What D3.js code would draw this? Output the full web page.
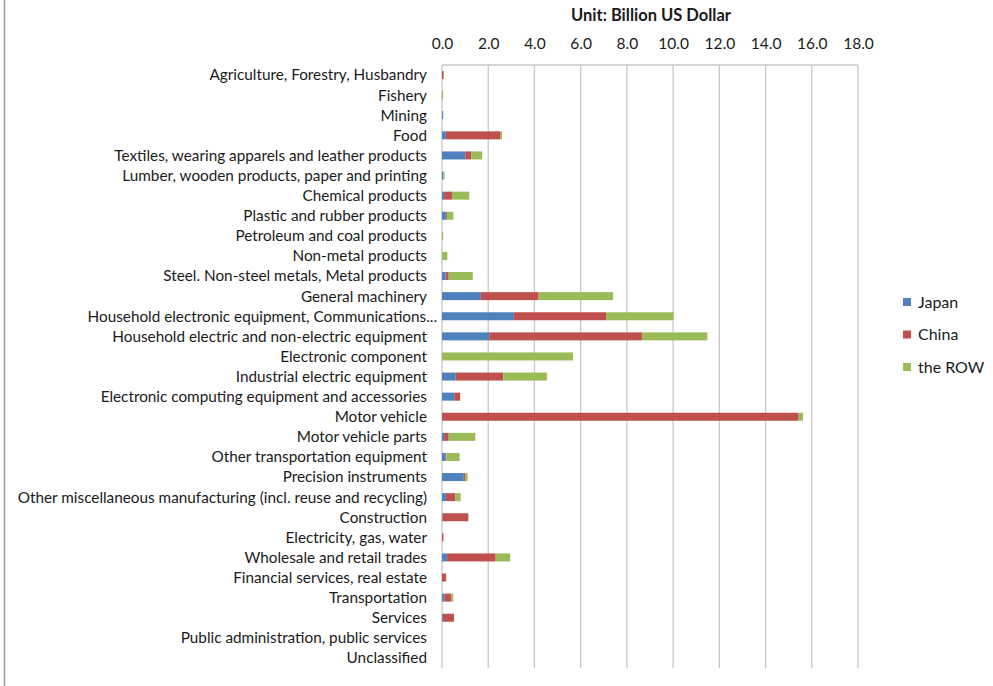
<!DOCTYPE html>
<html>
<head>
<meta charset="utf-8">
<script src="https://cdn.jsdelivr.net/npm/d3@7"></script>
<style>
  html, body { margin: 0; padding: 0; background: #fff; }
  svg { display: block; }
  text { font-family: Lato, "Open Sans", sans-serif; fill: #1a1a1a; }
</style>
</head>
<body>
<svg id="chart" width="993" height="686"></svg>
<script>
const categories = [
  "Agriculture, Forestry, Husbandry",
  "Fishery",
  "Mining",
  "Food",
  "Textiles, wearing apparels and leather products",
  "Lumber, wooden products, paper and printing",
  "Chemical products",
  "Plastic and rubber products",
  "Petroleum and coal products",
  "Non-metal products",
  "Steel. Non-steel metals, Metal products",
  "General machinery",
  "Household electronic equipment, Communications...",
  "Household electric and non-electric equipment",
  "Electronic component",
  "Industrial electric equipment",
  "Electronic computing equipment and accessories",
  "Motor vehicle",
  "Motor vehicle parts",
  "Other transportation equipment",
  "Precision instruments",
  "Other miscellaneous manufacturing (incl. reuse and recycling)",
  "Construction",
  "Electricity, gas, water",
  "Wholesale and retail trades",
  "Financial services, real estate",
  "Transportation",
  "Services",
  "Public administration, public services",
  "Unclassified"
];
const seriesNames = ["Japan", "China", "the ROW"];
const japan = [0.00, 0.00, 0.05, 0.17, 1.01, 0.06, 0.09, 0.17, 0.00, 0.00, 0.16, 1.68, 3.11, 2.04, 0.00, 0.59, 0.53, 0.00, 0.09, 0.16, 0.94, 0.17, 0.02, 0.00, 0.22, 0.00, 0.10, 0.04, 0.00, 0.00];
const china = [0.07, 0.00, 0.00, 2.36, 0.26, 0.00, 0.34, 0.04, 0.00, 0.00, 0.13, 2.50, 3.99, 6.61, 0.00, 2.06, 0.26, 15.43, 0.20, 0.03, 0.07, 0.41, 1.12, 0.06, 2.10, 0.17, 0.30, 0.48, 0.00, 0.00];
const row   = [0.00, 0.05, 0.00, 0.07, 0.47, 0.05, 0.75, 0.28, 0.05, 0.23, 1.04, 3.22, 2.92, 2.83, 5.67, 1.89, 0.00, 0.19, 1.15, 0.57, 0.10, 0.23, 0.00, 0.00, 0.63, 0.02, 0.09, 0.00, 0.00, 0.00];
const xTicks = [0, 2, 4, 6, 8, 10, 12, 14, 16, 18];
const axisTitle = "Unit: Billion US Dollar";
const colors = ["#4F81BD", "#C0504D", "#9BBB59"];

const svg = d3.select("#chart");

// outer frame left edge
svg.append("line").attr("x1", 4.5).attr("x2", 4.5).attr("y1", 0).attr("y2", 686)
  .attr("stroke", "#9a9a9a").attr("stroke-width", 1.5);

const pLeft = 442, pRight = 858, pTop = 65, pBottom = 668;
const x = d3.scaleLinear().domain([0, 18]).range([pLeft, pRight]);
const y = d3.scaleBand().domain(categories).range([pTop, pBottom]).paddingInner(0.6).paddingOuter(0.3);

// gridlines
svg.append("g").selectAll("line").data(xTicks).join("line")
  .attr("x1", d => x(d)).attr("x2", d => x(d))
  .attr("y1", pTop).attr("y2", pBottom)
  .attr("stroke", "#c8c8c8").attr("stroke-width", 1.3);
svg.append("line").attr("x1", pLeft).attr("x2", pRight).attr("y1", pTop).attr("y2", pTop)
  .attr("stroke", "#c8c8c8").attr("stroke-width", 1.3);

// top axis tick labels
const axis = d3.axisTop(x).tickValues(xTicks).tickFormat(d3.format(".1f")).tickSize(0).tickPadding(0);
const ag = svg.append("g").attr("transform", `translate(0, 49)`).call(axis);
ag.select(".domain").remove();
ag.selectAll("text").style("font-size", "15.5px").style("font-family", "Lato, sans-serif").attr("fill", "#1a1a1a");

svg.append("text").attr("x", 651).attr("y", 21).attr("text-anchor", "middle")
  .style("font-size", "16.5px").style("font-weight", "bold").text(axisTitle);

// stacked data
const data = categories.map((c, i) => ({ cat: c, Japan: japan[i], China: china[i], "the ROW": row[i] }));
const stack = d3.stack().keys(seriesNames)(data);

const bh = 8;
svg.append("g").selectAll("g").data(stack).join("g")
  .attr("fill", (d, i) => colors[i])
  .selectAll("rect").data(d => d.map(v => ({ v, cat: v.data.cat }))).join("rect")
  .attr("x", d => x(d.v[0]))
  .attr("width", d => Math.max(0, x(d.v[1]) - x(d.v[0])))
  .attr("y", d => y(d.cat) + y.bandwidth() / 2 - bh / 2)
  .attr("height", bh);

// category labels (truncated label's ellipsis hangs past the alignment edge, as in Excel)
svg.append("g").selectAll("text").data(categories).join("text")
  .attr("x", d => d.endsWith("...") ? 437 : 427)
  .attr("y", d => y(d) + y.bandwidth() / 2)
  .attr("dy", "0.35em")
  .attr("text-anchor", "end")
  .style("font-size", "15.3px")
  .text(d => d);

// legend
const lg = svg.append("g");
seriesNames.forEach((s, i) => {
  const ly = 302 + i * 32.5;
  lg.append("rect").attr("x", 903).attr("y", ly - 4).attr("width", 8).attr("height", 8).attr("fill", colors[i]);
  lg.append("text").attr("x", 918).attr("y", ly).attr("dy", "0.35em").style("font-size", "16px").text(s);
});
</script>
</body>
</html>
